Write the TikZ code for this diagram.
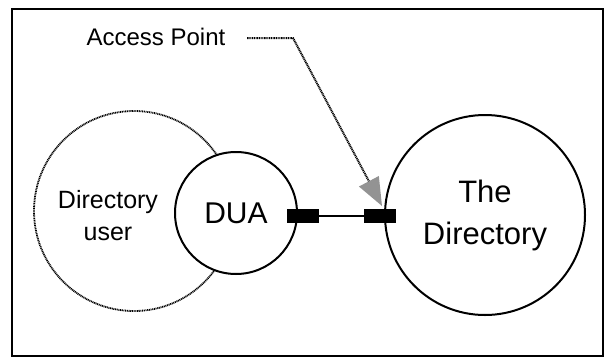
\documentclass[tikz,border=0pt]{standalone}
\usepackage{fontspec}
\setmainfont{Liberation Sans}
\usetikzlibrary{arrows.meta}
\tikzstyle{frame} = [draw=black, line width=2pt]
\tikzstyle{user} = [circle, minimum size=200pt, draw=black, dash pattern=on 1pt off 0.7pt, line width=1.8pt]
\tikzstyle{usertext} = [align=center, font=\fontsize{25}{32}\selectfont]
\tikzstyle{agent} = [circle, minimum size=122pt, draw=black, fill=white, line width=2pt, font=\fontsize{30}{36}\selectfont]
\tikzstyle{dir} = [circle, minimum size=200pt, draw=black, line width=2pt, align=center, font=\fontsize{31}{42}\selectfont]
\tikzstyle{apoint} = [rectangle, minimum width=32pt, minimum height=14pt, inner sep=0pt, fill=black]
\tikzstyle{label} = [font=\fontsize{24}{28}\selectfont]
\tikzstyle{pointer} = [dash pattern=on 1pt off 0.7pt, line width=2pt, -{Triangle[length=28pt,width=22pt,fill=gray!85,color=gray!85]}]

\begin{document}
\begin{tikzpicture}[x=1pt, y=-1pt]
\useasboundingbox (0,0) rectangle (607,359);
\draw [frame] (12,9) rectangle (603,356);

\node (user) [user] at (134,211) {};
\node (usertxt) [usertext] at (108,216) {Directory\\user};
\node (dua) [agent] at (236,213) {DUA};
\node (dir) [dir] at (485,215) {The\\Directory};

\node (apL) [apoint] at (303,216) {};
\node (apR) [apoint] at (380,216) {};
\draw [line width=2pt] (apL) -- (apR);

\node (aplabel) [label] at (156,37) {Access Point};
\coordinate (tail) at (247,38);
\coordinate (bend) at (293,38);
\coordinate (tip) at (382,206);
\draw [pointer] (tail) -- (bend) -- (tip);

\end{tikzpicture}
\end{document}
